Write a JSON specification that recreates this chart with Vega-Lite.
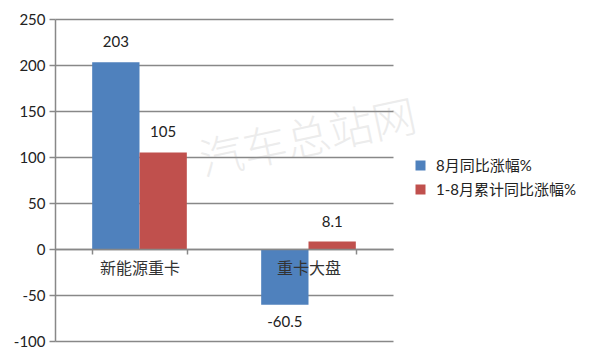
{
  "$schema": "https://vega.github.io/schema/vega-lite/v6.json",
  "width": 338,
  "height": 322,
  "autosize": "none",
  "padding": {"left": 55, "top": 19, "right": 207, "bottom": 19},
  "background": "white",
  "config": {"view": {"stroke": null}, "font": "Lato, Noto Sans CJK SC"},
  "data": {"values": [
    {"category": "新能源重卡", "series": "8月同比涨幅%", "value": 203},
    {"category": "新能源重卡", "series": "1-8月累计同比涨幅%", "value": 105},
    {"category": "重卡大盘", "series": "8月同比涨幅%", "value": -60.5},
    {"category": "重卡大盘", "series": "1-8月累计同比涨幅%", "value": 8.1}
  ]},
  "layer": [
    {
      "mark": {"type": "bar"},
      "encoding": {
        "x": {"field": "category", "type": "nominal", "sort": ["新能源重卡", "重卡大盘"],
          "scale": {"paddingInner": 0.44, "paddingOuter": 0.22},
          "axis": {"title": null, "offset": -92, "labelAngle": 0, "labelFont": "Noto Sans CJK SC", "labelFontSize": 16, "labelColor": "#333", "labelPadding": 6, "domainColor": "#888", "domainWidth": 1.5, "tickColor": "#888", "tickWidth": 1.5, "tickSize": 5, "tickBand": "extent", "zindex": 1}},
        "xOffset": {"field": "series", "type": "nominal", "sort": ["8月同比涨幅%", "1-8月累计同比涨幅%"]},
        "y": {"field": "value", "type": "quantitative", "scale": {"domain": [-100, 250], "nice": false},
          "axis": {"values": [-100, -50, 0, 50, 100, 150, 200, 250], "labelExpr": "'' + datum.value", "title": null, "gridColor": "#888", "gridWidth": 1.5, "domainColor": "#888", "domainWidth": 1.5, "tickColor": "#888", "tickWidth": 1.5, "tickSize": 6, "labelFont": "Lato", "labelFontSize": 15, "labelColor": "#222", "labelPadding": 4}},
        "color": {"field": "series", "type": "nominal", "sort": ["8月同比涨幅%", "1-8月累计同比涨幅%"],
          "scale": {"domain": ["8月同比涨幅%", "1-8月累计同比涨幅%"], "range": ["#4F81BD", "#C0504D"]},
          "legend": {"title": null, "orient": "none", "legendX": 358, "legendY": 139, "padding": 0, "symbolType": "square", "symbolSize": 100, "symbolStrokeWidth": 0, "labelFontSize": 15, "labelColor": "#222", "labelFont": "Lato, Noto Sans CJK SC", "rowPadding": 8, "labelOffset": 8}}
      }
    },
    {
      "transform": [{"filter": "datum.value >= 0"}],
      "mark": {"type": "text", "baseline": "bottom", "dy": -12, "fontSize": 15, "color": "#222", "font": "Lato"},
      "encoding": {
        "x": {"field": "category", "type": "nominal", "sort": ["新能源重卡", "重卡大盘"]},
        "xOffset": {"field": "series", "type": "nominal", "sort": ["8月同比涨幅%", "1-8月累计同比涨幅%"]},
        "y": {"field": "value", "type": "quantitative"},
        "text": {"field": "value", "type": "nominal"}
      }
    },
    {
      "transform": [{"filter": "datum.value < 0"}],
      "mark": {"type": "text", "baseline": "top", "dy": 10, "fontSize": 15, "color": "#222", "font": "Lato"},
      "encoding": {
        "x": {"field": "category", "type": "nominal", "sort": ["新能源重卡", "重卡大盘"]},
        "xOffset": {"field": "series", "type": "nominal", "sort": ["8月同比涨幅%", "1-8月累计同比涨幅%"]},
        "y": {"field": "value", "type": "quantitative"},
        "text": {"field": "value", "type": "nominal"}
      }
    },
    {
      "data": {"values": [{"mark": "汽车总站网"}]},
      "mark": {"type": "text", "fontSize": 44, "color": "#999", "opacity": 0.18, "angle": -12, "font": "Noto Sans CJK SC", "fontWeight": 300},
      "encoding": {
        "x": {"datum": "重卡大盘"},
        "y": {"datum": 118},
        "text": {"field": "mark"}
      }
    }
  ]
}
